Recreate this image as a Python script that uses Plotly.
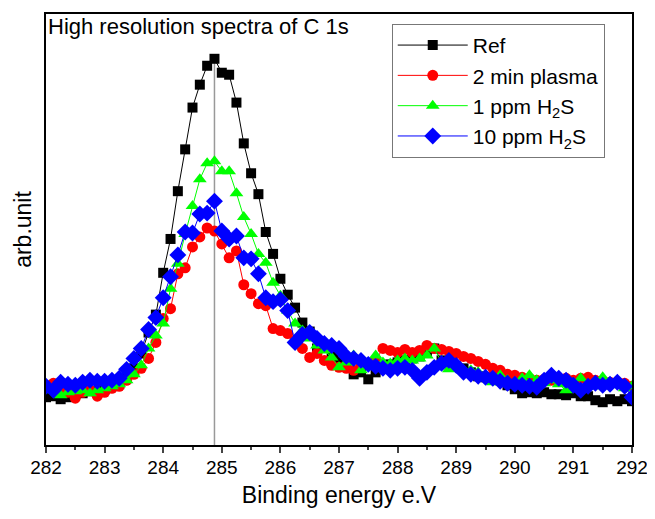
import plotly.graph_objects as go

# binding energy grid, 0.125 eV step, 282 -> 292 eV
energy = [282 + 0.125 * i for i in range(81)]

ref = [48, 49, 46, 48, 52, 52, 54, 53, 56, 59, 61, 67, 77, 92, 113, 131, 173, 207, 255, 297,
       339, 362, 381, 388, 374, 372, 344, 303, 273, 252, 214, 192, 167, 151, 138, 123, 114, 97, 99, 93,
       87, 79, 71, 73, 66, 73, 77, 81, 83, 85, 87, 89, 93, 97, 85, 83, 79, 77, 73, 69,
       68, 67, 65, 60, 56, 52, 53, 52, 53, 51, 51, 50, 52, 49, 49, 45, 43, 46, 44, 46, 44]

plasma = [60, 62, 57, 53, 47, 53, 55, 49, 53, 57, 59, 65, 71, 77, 87, 103, 127, 137, 172, 178,
          199, 209, 218, 215, 202, 188, 195, 161, 152, 142, 140, 117, 115, 112, 105, 97, 88, 92, 85, 80,
          78, 77, 75, 79, 81, 85, 97, 95, 93, 96, 93, 95, 100, 97, 96, 94, 92, 89, 87, 84,
          81, 77, 75, 71, 70, 68, 67, 65, 66, 65, 64, 67, 65, 67, 68, 65, 64, 63, 63, 62, 59]

h2s_1 = [57, 55, 50, 53, 54, 55, 52, 55, 57, 59, 61, 65, 71, 80, 97, 110, 122, 157, 182, 212,
         240, 267, 283, 285, 275, 275, 253, 229, 212, 192, 183, 163, 150, 135, 122, 115, 107, 100, 95, 88,
         78, 83, 90, 75, 80, 90, 83, 82, 85, 87, 85, 87, 90, 97, 83, 76, 77, 75, 75, 73,
         67, 63, 70, 65, 63, 67, 70, 65, 62, 65, 61, 55, 62, 67, 61, 59, 68, 61, 60, 57, 59]

h2s_10 = [59, 55, 63, 61, 60, 63, 65, 64, 64, 65, 67, 76, 87, 97, 116, 128, 148, 169, 191, 214,
          213, 232, 233, 245, 215, 207, 210, 188, 187, 172, 148, 144, 146, 135, 103, 111, 113, 107, 102, 100,
          97, 89, 87, 85, 81, 79, 77, 75, 77, 78, 75, 67, 73, 78, 82, 85, 80, 73, 71, 69,
          68, 67, 64, 62, 61, 60, 59, 58, 65, 70, 67, 65, 60, 55, 59, 62, 60, 61, 63, 59, 48]

series = [
    ('Ref', ref, 'black', 'square', 10),
    ('2 min plasma', plasma, 'red', 'circle', 11),
    ('1 ppm H<sub>2</sub>S', h2s_1, 'lime', 'triangle-up', 12),
    ('10 ppm H<sub>2</sub>S', h2s_10, 'blue', 'diamond', 13),
]

fig = go.Figure()

for name, vals, col, sym, size in series:
    fig.add_trace(go.Scatter(x=energy, y=vals, mode='lines+markers', name=name,
                             line=dict(color=col, width=1),
                             marker=dict(symbol=sym, size=size, color=col)))

# drop line at the Ref peak
peak_idx = ref.index(max(ref))
fig.add_shape(type='line', x0=energy[peak_idx], x1=energy[peak_idx], y0=0, y1=max(ref),
              line=dict(color='#999999', width=1.5), layer='below')

fig.add_annotation(text='High resolution spectra of C 1s', xref='paper', yref='paper',
                   x=0.0, y=1.005, xanchor='left', yanchor='top', showarrow=False,
                   font=dict(size=22, color='black'))

fig.update_layout(
    width=647, height=511,
    margin=dict(l=38, r=23, t=4, b=74),
    paper_bgcolor='white', plot_bgcolor='white',
    font=dict(family='Liberation Sans, Arial, sans-serif', size=19, color='black'),
    showlegend=True,
    legend=dict(x=0.59, y=0.977, xanchor='left', yanchor='top',
                bgcolor='white', bordercolor='#777777', borderwidth=1,
                font=dict(size=21), tracegroupgap=0, itemwidth=70),
    xaxis=dict(title=dict(text='Binding energy e.V', font=dict(size=23), standoff=10),
               range=[282, 292], dtick=1, ticks='outside', ticklen=6, tickwidth=1.5,
               ticklabelstandoff=-2,
               showline=True, linecolor='black', linewidth=1.5, mirror=True,
               showgrid=False, zeroline=False,
               minor=dict(dtick=0.5, ticks='outside', ticklen=3, tickwidth=1.5)),
    yaxis=dict(title=dict(text='arb.unit', font=dict(size=23), standoff=6),
               range=[0, 433], showticklabels=False, ticks='',
               showline=True, linecolor='black', linewidth=1.5, mirror=True,
               showgrid=False, zeroline=False),
)

fig.write_html("out.html")
